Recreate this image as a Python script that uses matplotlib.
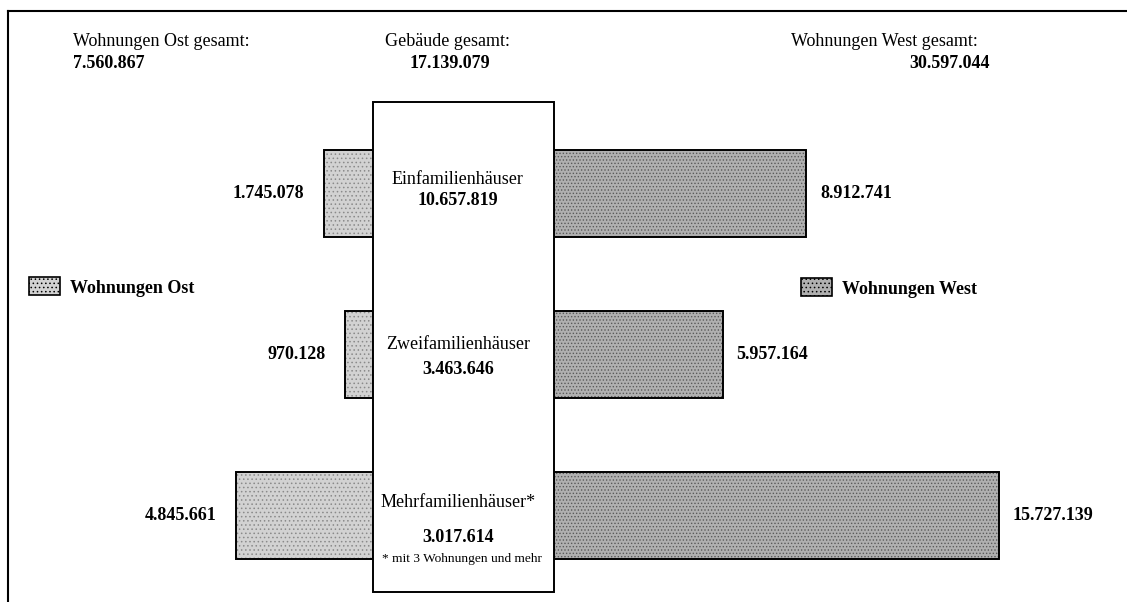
import numpy as np
import matplotlib
matplotlib.use('Agg')
import matplotlib.pyplot as plt
from matplotlib.patches import Rectangle, Patch
from matplotlib.lines import Line2D

plt.rcParams['font.family'] = ['Liberation Serif', 'DejaVu Serif']
plt.rcParams['hatch.linewidth'] = 0.6

# Daten (Wohnungen / Gebaeude nach Gebaeudeart)
categories = ['Einfamilienhäuser', 'Zweifamilienhäuser', 'Mehrfamilienhäuser*']
gebaeude = [10657819, 3463646, 3017614]
wohnungen_ost = [1745078, 970128, 4845661]
wohnungen_west = [8912741, 5957164, 15727139]
footnote = '* mit 3 Wohnungen und mehr'


def fmt(n):
    return f'{n:,}'.replace(',', '.')


W, H = 1127, 602
fig = plt.figure(figsize=(W / 100, H / 100), dpi=100)
ax = fig.add_axes([0, 0, 1, 1])
ax.set_xlim(-16.38, 23.45)
ax.set_ylim(2.54, -1.2)
ax.axis('off')

half = 3.2      # halbe Breite des Mittelkastens (in Mio.)
bar_h = 0.54
y = np.arange(len(categories))
ost = np.array(wohnungen_ost) / 1e6
west = np.array(wohnungen_west) / 1e6

col_ost, hatch_ost = '#d2d2d2', '#8a8a8a'
col_west, hatch_west = '#b0b0b0', '#5a5a5a'

# stipple fill, then outline
ax.barh(y, -ost, left=-half, height=bar_h, color=col_ost, edgecolor=hatch_ost,
        hatch='....', lw=0, zorder=2)
ax.barh(y, west, left=half, height=bar_h, color=col_west, edgecolor=hatch_west,
        hatch='.....', lw=0, zorder=2)
ax.barh(y, -ost, left=-half, height=bar_h, fill=False, edgecolor='black', lw=1.4, zorder=2)
ax.barh(y, west, left=half, height=bar_h, fill=False, edgecolor='black', lw=1.4, zorder=2)

# Mittelkasten
ax.add_patch(Rectangle((-half, -0.565), 2 * half, 3.043, facecolor='white',
                       edgecolor='black', lw=1.4, zorder=3))

for i, v in enumerate(wohnungen_ost):
    ax.annotate(fmt(v), xy=(-half - ost[i], i), xytext=(-14, 0), textcoords='offset points',
                ha='right', va='center', fontsize=13, fontweight='bold')
for i, v in enumerate(wohnungen_west):
    ax.annotate(fmt(v), xy=(half + west[i], i), xytext=(10, 0), textcoords='offset points',
                ha='left', va='center', fontsize=13, fontweight='bold')

# Beschriftung im Kasten (Versatz in Pixel)
name_dy = [-14, -10, -13]
num_dy = [7, 15, 22]
for i, (name, g) in enumerate(zip(categories, gebaeude)):
    ax.text(-0.2, i + name_dy[i] / 161, name, ha='center', va='center', fontsize=13, zorder=4)
    ax.text(-0.2, i + num_dy[i] / 161, fmt(g), ha='center', va='center', fontsize=13,
            fontweight='bold', zorder=4)
ax.text(-0.05, 2 + 44 / 161, footnote, ha='center', va='center', fontsize=9.6, zorder=4)

# Kopfzeile mit Summen
def fy(py):
    return 1 - py / H

fig.text(73 / W, fy(42), 'Wohnungen Ost gesamt:', ha='left', va='center', fontsize=13)
fig.text(73 / W, fy(63), fmt(sum(wohnungen_ost)), ha='left', va='center', fontsize=13, fontweight='bold')
fig.text(448 / W, fy(42), 'Gebäude gesamt:', ha='center', va='center', fontsize=13)
fig.text(450 / W, fy(64), fmt(sum(gebaeude)), ha='center', va='center', fontsize=13, fontweight='bold')
fig.text(791 / W, fy(42), 'Wohnungen West gesamt:', ha='left', va='center', fontsize=13)
fig.text(990 / W, fy(63), fmt(sum(wohnungen_west)), ha='right', va='center', fontsize=13, fontweight='bold')

# Legenden links und rechts
leg_prop = {'family': 'Liberation Serif', 'weight': 'bold', 'size': 13}
leg1 = ax.legend(handles=[Patch(facecolor=col_ost, edgecolor='black', lw=1.2, hatch='....',
                                label='Wohnungen Ost')],
                 loc='center left', bbox_to_anchor=(29 / W, fy(287)), bbox_transform=fig.transFigure,
                 frameon=False, prop=leg_prop, handlelength=1.7, handleheight=1.15,
                 handletextpad=0.55, borderpad=0, borderaxespad=0)
ax.add_artist(leg1)
ax.legend(handles=[Patch(facecolor=col_west, edgecolor='black', lw=1.2, hatch='....',
                         label='Wohnungen West')],
          loc='center left', bbox_to_anchor=(801 / W, fy(288)), bbox_transform=fig.transFigure,
          frameon=False, prop=leg_prop, handlelength=1.7, handleheight=1.15,
          handletextpad=0.55, borderpad=0, borderaxespad=0)

# Rahmen oben und links
fig.add_artist(Line2D([8 / W, 1], [fy(11), fy(11)], transform=fig.transFigure, color='black', lw=1.5))
fig.add_artist(Line2D([8 / W, 8 / W], [fy(11), 0], transform=fig.transFigure, color='black', lw=1.5))

fig.savefig('out.png', dpi=100)
